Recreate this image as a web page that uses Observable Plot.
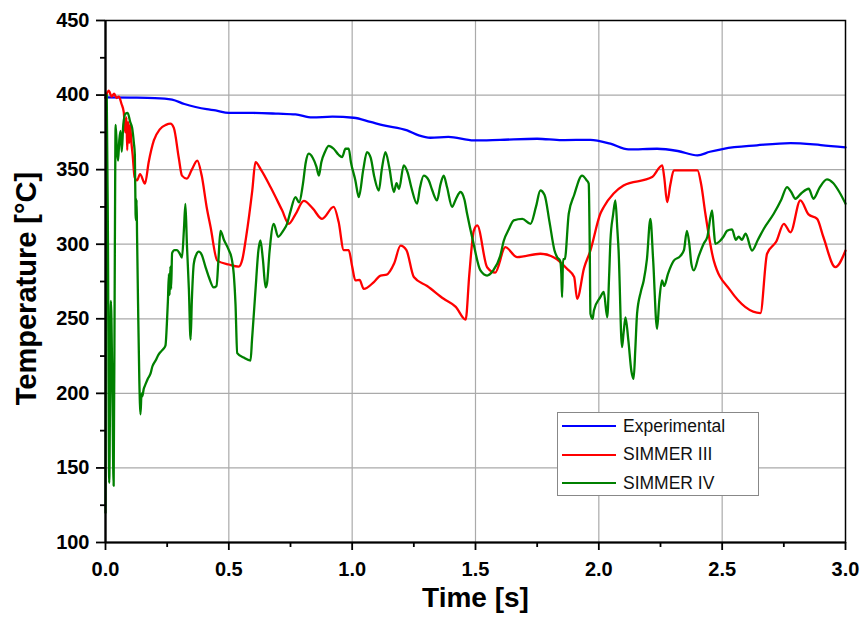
<!DOCTYPE html>
<html>
<head>
<meta charset="utf-8">
<script src="https://cdn.jsdelivr.net/npm/d3@7"></script>
<script src="https://cdn.jsdelivr.net/npm/@observablehq/plot@0.6"></script>
<style>
  html, body { margin: 0; padding: 0; background: #fff; }
  #wrap { position: relative; width: 863px; height: 617px; }
  #legend {
    position: absolute; left: 557px; top: 412px; width: 202px; height: 84px;
    border: 1px solid #888; background: #fff; box-sizing: border-box;
    font-family: "Liberation Sans", Arial, sans-serif; font-size: 17.5px; color: #111;
  }
  .row { position: absolute; left: 4px; height: 20px; display: flex; align-items: center; }
  .sw { width: 54px; height: 0; border-top: 2.5px solid; margin-right: 7px; }
</style>
</head>
<body>
<div id="wrap"></div>
<script>
const seriesNames = ["Experimental", "SIMMER III", "SIMMER IV"];
const seriesColors = ["#0000ff", "#ff0000", "#008000"];
const xTicks = [0, 0.5, 1.0, 1.5, 2.0, 2.5, 3.0];
const xMinor = [0.25, 0.75, 1.25, 1.75, 2.25, 2.75];
const yTicks = [100, 150, 200, 250, 300, 350, 400, 450];
const yMinor = [125, 175, 225, 275, 325, 375, 425];

// [time s, temperature °C]
const experimental = [[0,398.5],[0.1,398.3],[0.2,398],[0.27,397],[0.32,394],[0.365,392],[0.41,390.5],[0.446,389.7],[0.5,388],[0.6,388],[0.7,387.5],[0.77,387],[0.838,385],[0.92,385.5],[1.006,384.8],[1.074,382],[1.128,379.7],[1.223,376.3],[1.27,373],[1.317,371.4],[1.39,372],[1.493,369.6],[1.6,370],[1.75,370.7],[1.85,369.8],[1.966,370],[2.047,367.4],[2.12,363.6],[2.236,364],[2.32,362.5],[2.4,359.6],[2.45,362],[2.506,364],[2.641,366.3],[2.777,367.8],[2.9,366.5],[3.0,365]];

const simmer3 = [[0,398],[0.013,403],[0.025,399],[0.035,401],[0.045,398],[0.054,399],[0.065,394],[0.074,388.6],[0.08,375],[0.085,385],[0.088,363],[0.092,382],[0.096,368],[0.1,380],[0.104,370],[0.11,360],[0.118,345],[0.128,342.8],[0.14,347],[0.16,340.6],[0.175,355],[0.196,369.6],[0.22,377],[0.245,380],[0.263,380.8],[0.277,378],[0.297,358],[0.31,346],[0.33,344],[0.35,350],[0.372,356],[0.39,346],[0.41,325],[0.426,311.5],[0.453,289],[0.5,286.4],[0.54,285],[0.555,290],[0.57,304.8],[0.595,336],[0.608,355],[0.63,350],[0.67,338],[0.716,322.7],[0.743,313.7],[0.77,320],[0.804,329],[0.84,324],[0.878,317],[0.925,325],[0.945,315],[0.966,296],[0.986,296],[1.0,285],[1.013,275.7],[1.03,276],[1.047,270],[1.088,274.6],[1.115,279],[1.14,279.6],[1.17,287],[1.196,299],[1.22,296],[1.25,278],[1.304,272],[1.371,263.4],[1.42,258],[1.46,249.4],[1.475,280],[1.493,309],[1.507,312.6],[1.547,284.6],[1.58,281],[1.621,298],[1.669,291.3],[1.763,293.6],[1.82,291],[1.871,283.6],[1.9,278],[1.912,263.4],[1.94,284],[1.966,295.8],[2.006,320.4],[2.02,325],[2.06,334],[2.1,339.4],[2.216,345],[2.257,352.9],[2.265,345],[2.277,328.2],[2.29,340],[2.304,349.5],[2.4,349.5],[2.415,340],[2.432,320.4],[2.466,289],[2.533,269],[2.655,253.8],[2.682,293.6],[2.72,302],[2.75,313.7],[2.777,308],[2.817,329.4],[2.85,320],[2.885,317],[2.91,305],[2.959,284.6],[3.0,295.8]];

const simmer4 = [[0,120],[0.005,400],[0.01,300],[0.015,140],[0.022,262],[0.028,200],[0.033,138],[0.038,300],[0.041,380],[0.046,365],[0.051,356],[0.056,370],[0.061,376],[0.066,362],[0.072,380],[0.081,387.5],[0.09,388],[0.1,382],[0.108,378],[0.115,368],[0.119,360],[0.122,320],[0.124,316],[0.126,330],[0.128,305],[0.132,260],[0.137,210],[0.142,186],[0.146,200],[0.149,198],[0.155,203],[0.162,206],[0.172,210],[0.182,213],[0.19,218],[0.203,222],[0.215,226],[0.23,229],[0.243,232],[0.25,251],[0.253,262],[0.257,280],[0.26,266],[0.263,285],[0.266,270],[0.27,294],[0.28,296],[0.29,296],[0.3,294],[0.31,291],[0.318,310],[0.324,327],[0.33,300],[0.338,270],[0.345,236],[0.35,262],[0.358,287],[0.368,293],[0.378,295],[0.39,293],[0.405,285],[0.419,278],[0.439,271],[0.45,272],[0.458,290],[0.466,309],[0.48,303],[0.5,296],[0.512,290],[0.52,280],[0.527,260],[0.534,227],[0.56,224],[0.588,222],[0.594,236],[0.6,250],[0.608,269],[0.62,296],[0.628,302.5],[0.638,290],[0.649,271],[0.655,274],[0.665,295],[0.682,313.7],[0.7,305],[0.72,309],[0.736,313.7],[0.75,322],[0.77,331.6],[0.785,328],[0.8,340],[0.812,355],[0.824,360.7],[0.84,358],[0.855,352],[0.865,346],[0.875,355],[0.89,362],[0.905,366],[0.925,364],[0.945,360],[0.959,358.4],[0.973,364],[0.986,364],[0.995,355],[1.013,342.8],[1.027,331.6],[1.045,350],[1.06,361.8],[1.075,358],[1.09,345],[1.108,336],[1.12,350],[1.135,361.8],[1.15,352],[1.169,335],[1.18,341],[1.19,337],[1.209,352.9],[1.225,348],[1.24,338],[1.263,327.2],[1.275,338],[1.29,346],[1.31,343],[1.325,336],[1.344,329.4],[1.358,340],[1.371,346],[1.385,338],[1.405,325],[1.42,330],[1.439,335],[1.455,330],[1.466,320.4],[1.49,302],[1.52,282.4],[1.547,279],[1.57,282],[1.6,292],[1.615,302.5],[1.635,310],[1.655,316],[1.69,317],[1.723,313.7],[1.745,325],[1.763,336],[1.78,333],[1.8,315],[1.82,296],[1.831,291.3],[1.843,289],[1.848,280],[1.851,264.5],[1.855,290],[1.862,290],[1.878,320.4],[1.9,333],[1.932,346],[1.95,343],[1.959,340.6],[1.963,300],[1.966,253.4],[1.975,250],[1.98,255.6],[2.006,264.5],[2.02,268],[2.034,251],[2.042,280],[2.047,302.5],[2.058,320],[2.067,329.4],[2.075,310],[2.08,296],[2.094,231],[2.1,240],[2.108,251],[2.12,235],[2.132,215],[2.141,209.8],[2.148,230],[2.155,253.4],[2.17,268],[2.182,275.7],[2.195,290],[2.209,317],[2.22,290],[2.236,243.3],[2.245,262],[2.256,275.7],[2.265,272],[2.28,280],[2.304,289],[2.33,292],[2.345,296],[2.357,309],[2.367,300],[2.375,287],[2.385,282.4],[2.405,292],[2.425,300.3],[2.44,305],[2.459,322.7],[2.466,310],[2.472,300.3],[2.49,302],[2.505,305],[2.52,309],[2.54,310],[2.555,303],[2.567,305],[2.58,303],[2.595,307],[2.621,295.8],[2.645,303],[2.669,310.4],[2.709,320.4],[2.74,330],[2.763,338.3],[2.78,335],[2.797,330.5],[2.82,334],[2.851,337.2],[2.87,330.5],[2.895,338],[2.925,343.5],[2.95,341],[2.975,335],[3.0,327.2]];

const allSeries = [experimental, simmer3, simmer4];
const rows = allSeries.flatMap((s, i) => s.map(([t, v]) => ({t, v, series: seriesNames[i]})));

const labelFont = "'Liberation Sans', Arial, sans-serif";

const chart = Plot.plot({
  width: 863,
  height: 617,
  marginLeft: 105,
  marginRight: 18,
  marginTop: 20,
  marginBottom: 75,
  style: {fontFamily: labelFont, background: "#fff", overflow: "visible"},
  x: {domain: [0, 3], label: null},
  y: {domain: [100, 450], label: null},
  color: {domain: seriesNames, range: seriesColors},
  marks: [
    Plot.ruleX(xTicks.slice(1, -1), {stroke: "#aaa", strokeWidth: 1.2}),
    Plot.ruleY(yTicks.slice(1, -1), {stroke: "#aaa", strokeWidth: 1.2}),
    Plot.line(rows, {x: "t", y: "v", z: "series", stroke: "series", strokeWidth: 2.3, curve: "monotone-x"}),
    Plot.frame({stroke: "#000", strokeWidth: 1.5}),
    Plot.axisX(xTicks, {tickSize: 8, tickPadding: 11, tickFormat: d3.format(".1f"), fontFamily: labelFont, fontSize: 20, fontWeight: "bold", stroke: "#000", strokeWidth: 1.8, label: null, fill: "#000"}),
    Plot.axisX(xMinor, {tickSize: 5, tickFormat: () => "", stroke: "#000", strokeWidth: 1.8, label: null}),
    Plot.axisY(yTicks, {tickSize: 9, tickPadding: 7, tickFormat: d3.format("d"), fontFamily: labelFont, fontSize: 20, fontWeight: "bold", stroke: "#000", strokeWidth: 1.8, label: null, fill: "#000"}),
    Plot.axisY(yMinor, {tickSize: 5, tickFormat: () => "", stroke: "#000", strokeWidth: 1.8, label: null}),
    Plot.ruleX([0], {stroke: "#000", strokeWidth: 2.2}),
    Plot.ruleY([100], {stroke: "#000", strokeWidth: 2.2}),
    Plot.text(["Time [s]"], {frameAnchor: "bottom", dy: 64, fontSize: 28, fontWeight: "bold", fill: "#000", fontFamily: labelFont}),
    Plot.text(["Temperature [°C]"], {frameAnchor: "left", textAnchor: "middle", rotate: -90, dx: -79, dy: 7, fontSize: 29, fontWeight: "bold", fill: "#000", fontFamily: labelFont})
  ]
});

const wrap = document.getElementById("wrap");
wrap.appendChild(chart);

const legend = document.createElement("div");
legend.id = "legend";
seriesNames.forEach((name, i) => {
  const row = document.createElement("div");
  row.className = "row";
  row.style.top = (3 + i * 28.7) + "px";
  const sw = document.createElement("span");
  sw.className = "sw";
  sw.style.borderTopColor = seriesColors[i];
  const lab = document.createElement("span");
  lab.textContent = name;
  row.appendChild(sw);
  row.appendChild(lab);
  legend.appendChild(row);
});
wrap.appendChild(legend);
</script>
</body>
</html>
